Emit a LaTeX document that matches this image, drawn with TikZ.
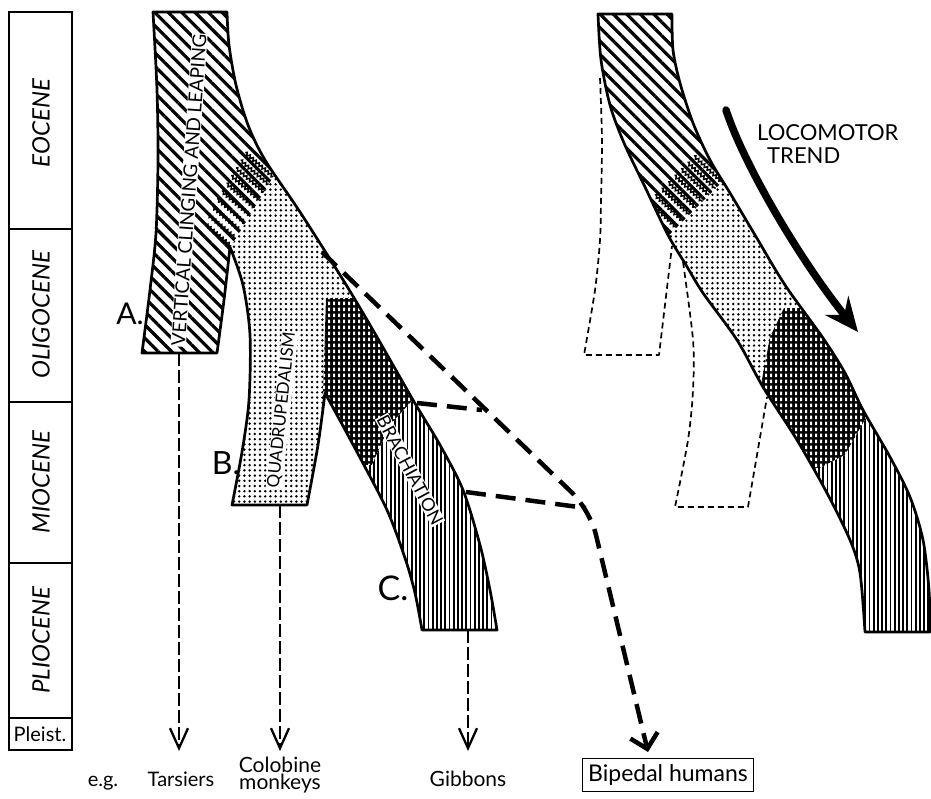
\documentclass[tikz,border=0pt]{standalone}
\usepackage{fontspec}
\setmainfont{Lato}
\usetikzlibrary{patterns.meta,decorations.pathmorphing,arrows.meta}

\pgfdeclarepattern{name=slits, type=uncolored,
  bottom left={\pgfpoint{0pt}{0pt}}, top right={\pgfpoint{4.6pt}{6pt}},
  tile size={\pgfpoint{4.6pt}{6pt}},
  code={\pgfpathrectangle{\pgfpoint{1.2pt}{0.9pt}}{\pgfpoint{2.2pt}{4.2pt}}\pgfusepath{fill}}}

\newcommand\fsz[1]{\fontsize{#1}{#1}\selectfont}

\def\LeftOutline{plot[smooth] coordinates {(142,353) (150,290) (156,233) (158,160) (157,90) (153,12)}
 -- plot[smooth] coordinates {(227,12) (229,45) (236,85) (248,125) (265,160) (300,212) (345,283) (377,337) (413,400) (440,445) (463,490) (480,545) (490,590) (497,630)}
 -- (422,630)
 -- plot[smooth] coordinates {(422,630) (415,593) (405,558) (387,510) (357,452) (325,393)}
 -- plot[smooth] coordinates {(325,393) (318,445) (307,505)}
 -- (232,505)
 -- plot[smooth] coordinates {(232,505) (242,452) (249,400) (250,335) (243,285) (230,247)}
 -- plot[smooth] coordinates {(230,247) (224,300) (217,353)}
 -- cycle}
\def\HatchL{(100,0) -- (381,0) -- (231,246) -- (222,420) -- (100,420) -- cycle}
\def\DarkL{(326,298) -- (440,298) -- (440,399) -- (413,400) -- (390,425) -- (372,465) -- (331,465) -- (323,393) -- cycle}
\def\VertL{(440,399) -- (413,400) -- (390,425) -- (372,465) -- (331,465) -- (331,700) -- (540,700) -- (540,399) -- cycle}

\def\RightOutline{plot[smooth] coordinates {(865,632) (860,573) (850,540) (827,493) (797,440) (763,387) (737,340) (703,293) (686,265) (668,235) (645,187) (624,143) (610,105) (601,60) (598,14)}
 -- plot[smooth] coordinates {(672,14) (673,50) (680,83) (693,123) (710,160) (730,193) (755,235) (785,285) (823,338) (845,373) (863,410) (890,457) (910,497) (923,540) (929,590) (930,632)}
 -- cycle}
\def\HatchR{(560,0) -- (904,0) -- (668,236) -- (560,236) -- cycle}
\def\DarkR{(784,308) -- (960,308) -- (960,400) -- (866,418) -- (845,455) -- (820,468) -- (790,470) -- (760,390) -- (770,337) -- cycle}
\def\VertR{(960,400) -- (866,418) -- (845,455) -- (820,468) -- (790,470) -- (790,700) -- (960,700) -- cycle}

\tikzset{
  outl/.style={line width=2.7pt, line join=round},
  hatchp/.style={pattern={Lines[angle=-45,distance=9.5pt,line width=3.2pt]}},
  dotp/.style={pattern={Dots[radius=1.35pt,distance=5.2pt]}},
  vertp/.style={pattern={Lines[angle=90,distance=4.2pt,line width=1.8pt]}},
  darkp/.style={pattern=slits, pattern color=white},
  wavy/.style={line width=1.5pt, decorate, decoration={snake,amplitude=1.5pt,segment length=4pt}},
  colline/.style={line width=1.4pt},
  period/.style={rotate=90, font=\fsz{24}\itshape},
  treelab/.style={fill=white, inner sep=0.8pt},
  letter/.style={inner sep=0pt},
  bottomlab/.style={anchor=base, inner sep=0pt},
  thinarr/.style={line width=2.3pt, dash pattern=on 13pt off 4pt, -{Straight Barb[length=20pt,width=18pt]}},
  thickdash/.style={line width=4.5pt, dash pattern=on 20pt off 10pt},
  ghost/.style={line width=1.7pt, dash pattern=on 6pt off 4pt, line join=round},
}

\begin{document}
\begin{tikzpicture}[x=1pt,y=-1pt]
\useasboundingbox (0,0) rectangle (931,798);

% ---- time column
\draw[colline] (9,12) rectangle (72,750);
\foreach \yy in {229,402,563,718} \draw[colline] (9,\yy) -- (72,\yy);
\node[period] (eo) at (41,123) {EOCENE};
\node[period] (oli) at (41,315) {OLIGOCENE};
\node[period] (mio) at (41,482) {MIOCENE};
\node[period] (pli) at (41,640) {PLIOCENE};
\node[font=\fsz{20}] (ple) at (40,734) {Pleist.};

% ---- left tree fills
\begin{scope}
  \clip \LeftOutline;
  \path[dotp] (100,0) rectangle (560,700);
  \fill[white] \HatchL; \path[hatchp] \HatchL;
  \fill[black] \DarkL; \path[darkp] \DarkL;
  \fill[white] \VertL; \path[vertp] \VertL;
  \begin{scope}
    \clip (207,0) rectangle (400,400);
    \foreach \i [evaluate=\i as \px using 231+4.7*\i, evaluate=\i as \py using 246-7.7*\i] in {0,...,9}
      \draw[wavy] (\px-28,\py-24) -- (\px,\py);
  \end{scope}
\end{scope}
\draw[outl] \LeftOutline;

% ---- right tree fills
\begin{scope}
  \clip \RightOutline;
  \path[dotp] (560,0) rectangle (960,700);
  \fill[white] \HatchR; \path[hatchp] \HatchR;
  \fill[black] \DarkR; \path[darkp] \DarkR;
  \fill[white] \VertR; \path[vertp] \VertR;
  \foreach \i [evaluate=\i as \px using 670+6.5*\i, evaluate=\i as \py using 234-6.5*\i] in {0,...,8}
    \draw[wavy] (\px-28,\py-26) -- (\px,\py);
\end{scope}
\draw[outl] \RightOutline;

% ---- ghost branches
\draw[ghost] plot[smooth] coordinates {(600,78) (602,140) (601,200) (600,240) (595,290) (584,355)} -- (659,355) -- (672,246);
\draw[ghost] plot[smooth] coordinates {(683,262) (693,340) (693,390) (688,440) (675,507)} -- (748,507) -- (767,397);

% ---- tree labels
\node[treelab, rotate=86, font=\fsz{19}] (vcl) at (189,190) {VERTICAL CLINGING AND LEAPING};
\node[treelab, rotate=84, font=\fsz{17}] (quad) at (282,410) {QUADRUPEDALISM};
\node[treelab, rotate=-62, font=\fsz{18}] (brach) at (410,470) {BRACHIATION};
\node[letter, font=\fsz{30}] (labA) at (130,314) {A.};
\node[letter, font=\fsz{32}] (labB) at (226,463) {B.};
\node[letter, font=\fsz{34}] (labC) at (393,588) {C.};

% ---- locomotor trend
\node[anchor=base west, inner sep=0pt, font=\fsz{22}] (loco) at (757,140) {LOCOMOTOR};
\node[anchor=base west, inner sep=0pt, font=\fsz{22}] (trend) at (767,163) {TREND};
\coordinate (trS) at (726,110);
\coordinate (trE) at (858,332);
\draw[line width=7.5pt, line cap=round, -{Stealth[length=34pt,width=30pt,inset=12pt]}] (trS) .. controls (744,165) and (800,260) .. (trE);

% ---- bottom labels
\node[bottomlab, font=\fsz{20}] (eg) at (103,786) {e.g.};
\node[bottomlab, font=\fsz{20}] (tars) at (181,786) {Tarsiers};
\node[bottomlab, font=\fsz{21}] (colo1) at (280,772) {Colobine};
\node[bottomlab, font=\fsz{21}] (colo2) at (280,789) {monkeys};
\node[bottomlab, font=\fsz{21}] (gib) at (468,786) {Gibbons};
\node[draw, line width=1.1pt, anchor=base, font=\fsz{23}, text height=17pt, text depth=5pt, inner sep=5.5pt] (bip) at (668,781) {Bipedal humans};

% ---- descent arrows
\coordinate (Abot) at (179,353);  \coordinate (tarsTip) at (179,751);
\coordinate (Bbot) at (280,505);  \coordinate (colTip) at (280,751);
\coordinate (Cbot) at (468,630);  \coordinate (gibTip) at (468,751);
\draw[thinarr] (Abot) -- (tarsTip);
\draw[thinarr] (Bbot) -- (colTip);
\draw[thinarr] (Cbot) -- (gibTip);

% ---- human lineage dashed
\coordinate (mainS) at (322,252);
\coordinate (bend) at (590,510);
\coordinate (bipTip) at (648,752);
\coordinate (tickA) at (417,403);
\coordinate (tickAe) at (482,410);
\coordinate (tickB) at (466,492);
\coordinate (tickBe) at (586,508);
\draw[thickdash, rounded corners=25pt, -{Straight Barb[length=14pt,width=28pt]}] (mainS) -- (bend) -- (bipTip);
\draw[thickdash] (tickA) -- (tickAe);
\draw[thickdash] (tickB) -- (tickBe);
\end{tikzpicture}
\end{document}
